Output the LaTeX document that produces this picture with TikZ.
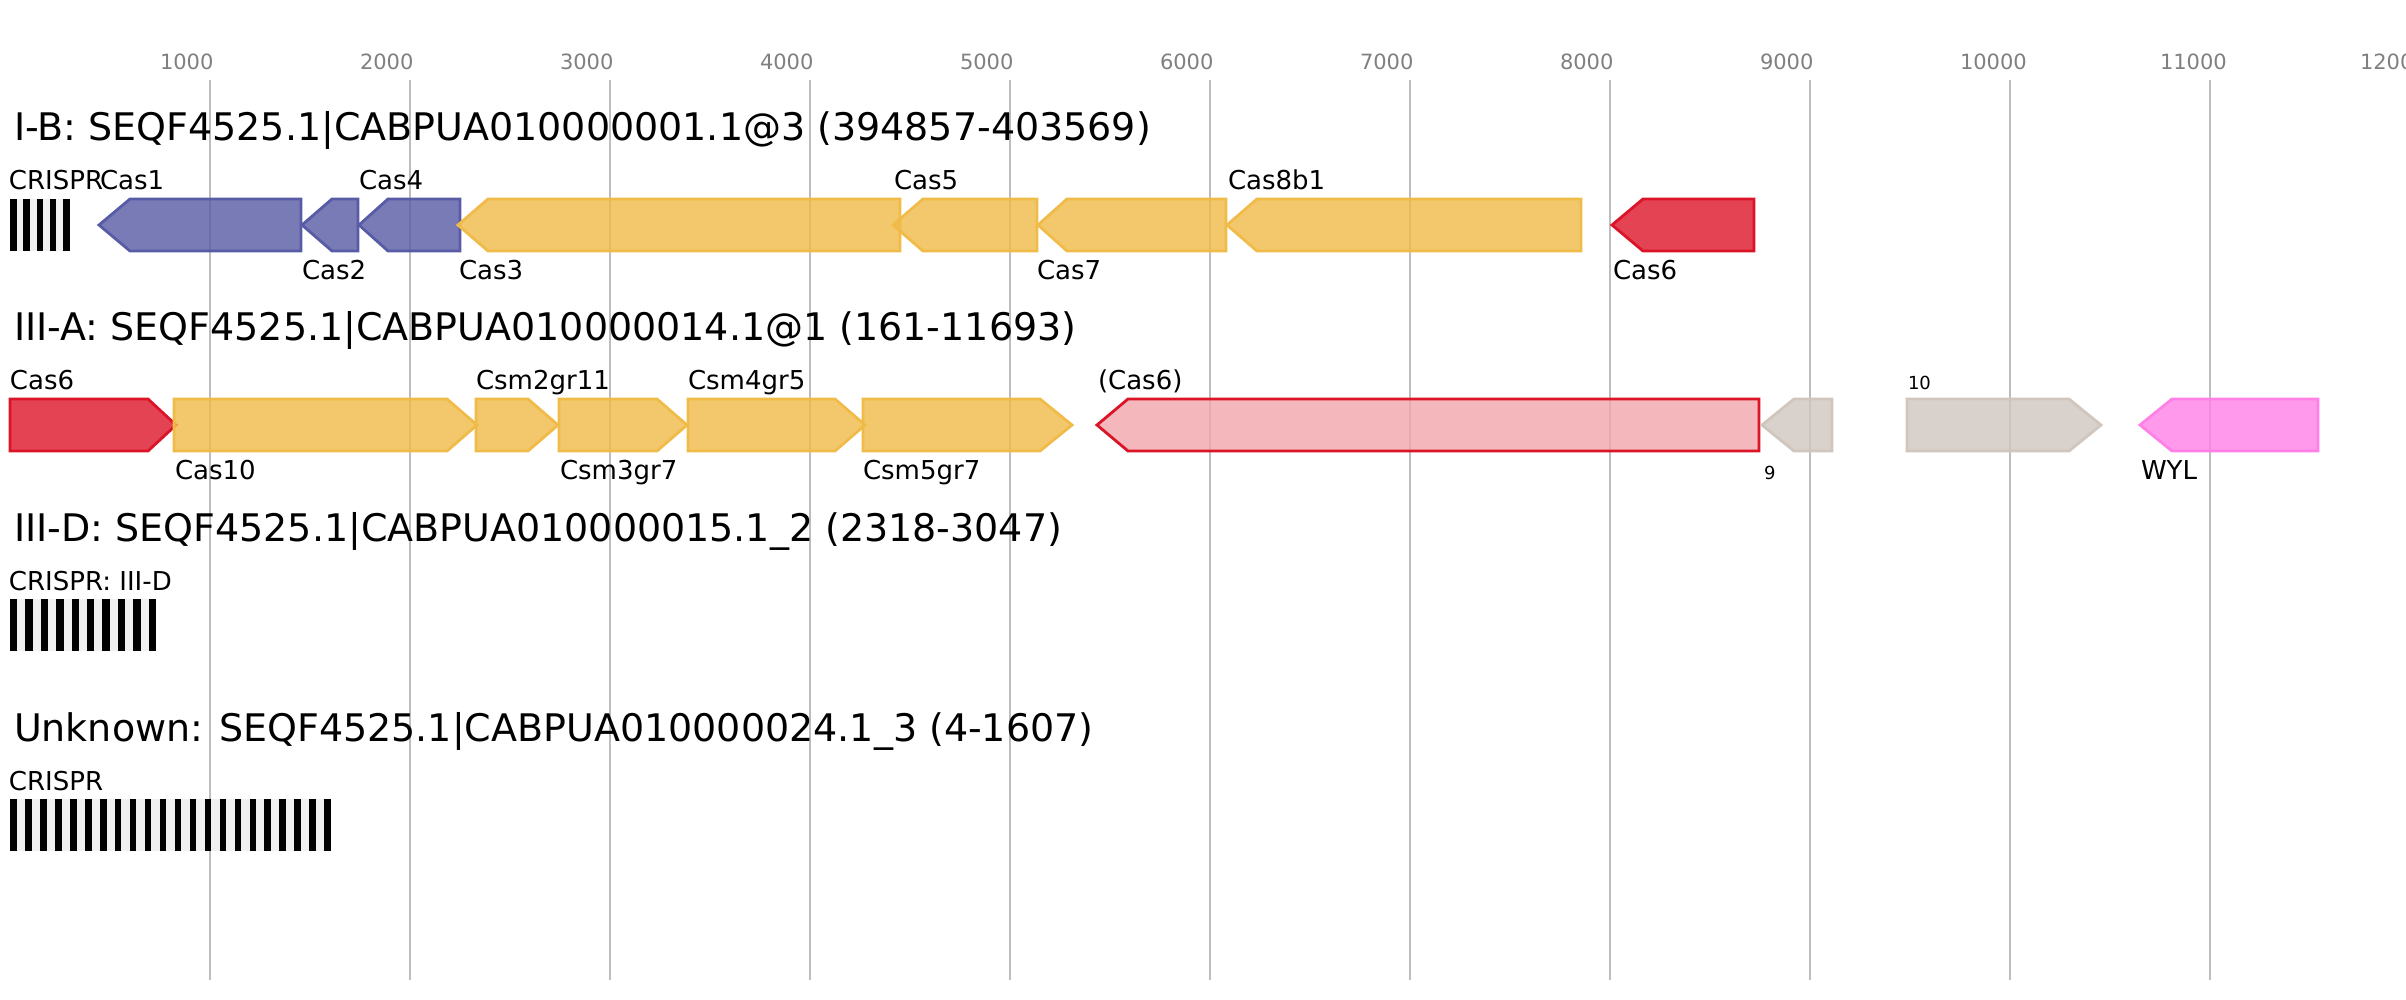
\documentclass[tikz,border=0pt]{standalone}
\usepackage{fontspec}
\setmainfont{DejaVu Sans}
\definecolor{cblue}{RGB}{88,91,165}
\definecolor{cyel}{RGB}{240,187,72}
\definecolor{cred}{RGB}{220,20,40}
\definecolor{cpinkf}{RGB}{242,166,171}
\definecolor{cbeige}{RGB}{208,198,190}
\definecolor{cwyl}{RGB}{255,128,230}
\definecolor{cgrid}{RGB}{190,190,190}
\definecolor{caxis}{RGB}{128,128,128}
\definecolor{cgap}{RGB}{240,240,240}
\tikzset{
  gbase/.style={line width=1.4pt, line join=miter, fill opacity=0.8},
  gblue/.style={gbase, draw=cblue, fill=cblue},
  gyel/.style={gbase, draw=cyel, fill=cyel},
  gred/.style={gbase, draw=cred, fill=cred},
  gpink/.style={gbase, draw=cred, fill=cpinkf},
  gbeige/.style={gbase, draw=cbeige, fill=cbeige},
  gwyl/.style={gbase, draw=cwyl, fill=cwyl},
  gridline/.style={draw=cgrid, line width=1pt},
  lab/.style={inner sep=0pt, outer sep=0pt, anchor=base west, font=\fontsize{13pt}{15pt}\selectfont},
  smlab/.style={inner sep=0pt, outer sep=0pt, anchor=base west, font=\fontsize{9pt}{11pt}\selectfont},
  ttl/.style={inner sep=0pt, outer sep=0pt, anchor=base west, font=\fontsize{19pt}{22pt}\selectfont},
  axl/.style={inner sep=0pt, outer sep=0pt, anchor=base west, text=caxis, font=\fontsize{10.5pt}{12pt}\selectfont},
}
% left-pointing gene: tip, shoulder, end, top, style
\newcommand\geneleft[5]{\draw[#5] (#1,#4+26) -- (#2,#4) -- (#3,#4) -- (#3,#4+52) -- (#2,#4+52) -- cycle;}
% right-pointing gene: start, shoulder, tip, top, style
\newcommand\generight[5]{\draw[#5] (#1,#4) -- (#2,#4) -- (#3,#4+26) -- (#2,#4+52) -- (#1,#4+52) -- cycle;}
% crispr array: x0, x1, top, count, barwidth, period
\newcommand\crisprarr[6]{%
  \fill[cgap] (#1,#3) rectangle (#2,#3+52);
  \foreach \k in {1,...,#4}{\fill[black] ({#1+(\k-1)*#6},#3) rectangle ({#1+(\k-1)*#6+#5},#3+52);}
}
\begin{document}
\begin{tikzpicture}[x=0.5pt,y=-0.5pt]
\useasboundingbox (0,0) rectangle (2406,1000);
\fill[white] (0,0) rectangle (2406,1000);
% grid and axis
\foreach \i in {1,...,11}{\draw[gridline] ({10+200*\i},80) -- ({10+200*\i},980);}
\foreach \i in {1,...,12}{\node[axl] (ax\i) at ({10+200*\i-50},70) {\i000};}

% ---------- Row 1: I-B ----------
\node[ttl] (t1) at (14,141) {I-B: SEQF4525.1|CABPUA010000001.1@3 (394857-403569)};
\crisprarr{10}{69.5}{199}{5}{6.5}{13.3}
\geneleft{99}{130}{301}{199}{gblue}
\geneleft{302}{332}{358}{199}{gblue}
\geneleft{359}{388}{460}{199}{gblue}
\geneleft{458}{488}{900}{199}{gyel}
\geneleft{893}{923}{1037}{199}{gyel}
\geneleft{1038}{1067}{1226}{199}{gyel}
\geneleft{1227}{1257}{1581}{199}{gyel}
\geneleft{1612}{1643}{1754}{199}{gred}
\node[lab] (l1a) at (9,190) {CRISPR};
\node[lab] (l1b) at (100,190) {Cas1};
\node[lab] (l1c) at (302,280) {Cas2};
\node[lab] (l1d) at (359,190) {Cas4};
\node[lab] (l1e) at (459,280) {Cas3};
\node[lab] (l1f) at (894,190) {Cas5};
\node[lab] (l1g) at (1037,280) {Cas7};
\node[lab] (l1h) at (1228,190) {Cas8b1};
\node[lab] (l1i) at (1613,280) {Cas6};

% ---------- Row 2: III-A ----------
\node[ttl] (t2) at (14,341) {III-A: SEQF4525.1|CABPUA010000014.1@1 (161-11693)};
\generight{10}{148}{176}{399}{gred}
\generight{174}{447}{477}{399}{gyel}
\generight{476}{528}{558}{399}{gyel}
\generight{559}{657}{687}{399}{gyel}
\generight{688}{835}{865}{399}{gyel}
\generight{863}{1040}{1072}{399}{gyel}
\geneleft{1097}{1128}{1759}{399}{gpink}
\geneleft{1762}{1794}{1832}{399}{gbeige}
\generight{1907}{2069}{2101}{399}{gbeige}
\geneleft{2140}{2172}{2318}{399}{gwyl}
\node[lab] (l2a) at (10,390) {Cas6};
\node[lab] (l2b) at (175,480) {Cas10};
\node[lab] (l2c) at (476,390) {Csm2gr11};
\node[lab] (l2d) at (560,480) {Csm3gr7};
\node[lab] (l2e) at (688,390) {Csm4gr5};
\node[lab] (l2f) at (863,480) {Csm5gr7};
\node[lab] (l2g) at (1098,390) {(Cas6)};
\node[smlab] (l2h) at (1764,480) {9};
\node[smlab] (l2i) at (1908,390) {10};
\node[lab] (l2j) at (2141,480) {WYL};

% ---------- Row 3: III-D ----------
\node[ttl] (t3) at (14,541) {III-D: SEQF4525.1|CABPUA010000015.1\_2 (2318-3047)};
\node[lab] (l3a) at (9,590) {CRISPR: III-D};
\crisprarr{10}{156}{599}{10}{7.3}{15.41}

% ---------- Row 4: Unknown ----------
\node[ttl] (t4) at (14,741) {Unknown: SEQF4525.1|CABPUA010000024.1\_3 (4-1607)};
\node[lab] (l4a) at (9,790) {CRISPR};
\crisprarr{10}{331}{799}{22}{6.7}{14.97}
\end{tikzpicture}
\end{document}
